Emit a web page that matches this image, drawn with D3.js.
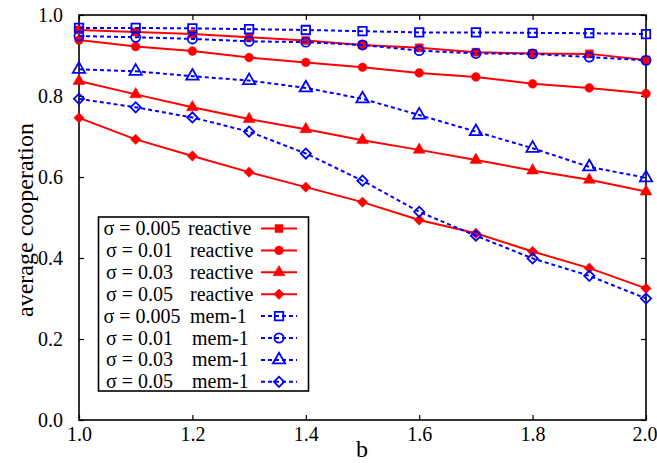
<!DOCTYPE html>
<html>
<head>
<meta charset="utf-8">
<script src="https://cdn.jsdelivr.net/npm/d3@7"></script>
<style>
  html, body { margin: 0; padding: 0; background: #fff; }
  svg { display: block; }
  text { font-family: "Liberation Serif", "Times New Roman", serif; fill: #000; }
</style>
</head>
<body>
<svg id="chart" width="657" height="463"></svg>
<script>
// ---- data ----
const bValues = [1.0, 1.1, 1.2, 1.3, 1.4, 1.5, 1.6, 1.7, 1.8, 1.9, 2.0];
const reactive005 = [0.963, 0.958, 0.953, 0.945, 0.937, 0.926, 0.919, 0.908, 0.905, 0.904, 0.889];
const reactive01  = [0.938, 0.922, 0.911, 0.895, 0.883, 0.871, 0.857, 0.847, 0.830, 0.820, 0.806];
const reactive03  = [0.837, 0.804, 0.772, 0.743, 0.718, 0.691, 0.667, 0.642, 0.616, 0.593, 0.564];
const reactive05  = [0.746, 0.693, 0.652, 0.612, 0.575, 0.538, 0.494, 0.461, 0.416, 0.375, 0.325];
const mem005 = [0.968, 0.968, 0.967, 0.965, 0.963, 0.960, 0.957, 0.957, 0.956, 0.955, 0.953];
const mem01  = [0.948, 0.945, 0.941, 0.935, 0.933, 0.926, 0.912, 0.905, 0.904, 0.896, 0.888];
const mem03  = [0.866, 0.861, 0.849, 0.838, 0.820, 0.793, 0.753, 0.712, 0.671, 0.625, 0.598];
const mem05  = [0.793, 0.772, 0.747, 0.712, 0.658, 0.591, 0.514, 0.455, 0.399, 0.356, 0.300];
const sigmaLabels = ["σ = 0.005", "σ = 0.01", "σ = 0.03", "σ = 0.05"];
const typeLabels = ["reactive", "mem-1"];
const xTicks = [1.0, 1.2, 1.4, 1.6, 1.8, 2.0];
const yTicks = [0.0, 0.2, 0.4, 0.6, 0.8, 1.0];

const series = [
  {sigma: 0, type: 0, values: reactive005, shape: "square"},
  {sigma: 1, type: 0, values: reactive01, shape: "circle"},
  {sigma: 2, type: 0, values: reactive03, shape: "triangle"},
  {sigma: 3, type: 0, values: reactive05, shape: "diamond"},
  {sigma: 0, type: 1, values: mem005, shape: "square"},
  {sigma: 1, type: 1, values: mem01, shape: "circle"},
  {sigma: 2, type: 1, values: mem03, shape: "triangle"},
  {sigma: 3, type: 1, values: mem05, shape: "diamond"}
];

// ---- layout ----
const svg = d3.select("#chart");
const L = 79, R = 646, T = 15, B = 420;
const x = d3.scaleLinear().domain([1, 2]).range([L, R]);
const y = d3.scaleLinear().domain([0, 1]).range([B, T]);
const RED = "#ff0000", BLUE = "#0000ff";
const FONT = '"Liberation Serif", "Times New Roman", serif';

function symbolPath(shape, filled) {
  if (shape === "square") return d3.symbol(d3.symbolSquare, filled ? 64 : 72)();
  if (shape === "circle") return d3.symbol(d3.symbolCircle, filled ? 60 : 66)();
  if (shape === "triangle") return d3.symbol(d3.symbolTriangle, filled ? 62 : 66)();
  return d3.symbol(d3.symbolSquare, filled ? 54 : 52)();
}
function symbolTransform(shape, cx, cy) {
  return shape === "diamond" ? `translate(${cx},${cy}) rotate(45)` : `translate(${cx},${cy})`;
}

// axes
const gx = svg.append("g").attr("transform", `translate(0,${B})`)
  .call(d3.axisBottom(x).tickValues(xTicks).tickFormat(d3.format(".1f")).tickSize(-5).tickSizeOuter(0).tickPadding(7));
const gy = svg.append("g").attr("transform", `translate(${L},0)`)
  .call(d3.axisLeft(y).tickValues(yTicks).tickFormat(d3.format(".1f")).tickSize(-5).tickSizeOuter(0).tickPadding(16));
const gt = svg.append("g").attr("transform", `translate(0,${T})`)
  .call(d3.axisTop(x).tickValues(xTicks).tickFormat("").tickSize(-5).tickSizeOuter(0));
const gr = svg.append("g").attr("transform", `translate(${R},0)`)
  .call(d3.axisRight(y).tickValues(yTicks).tickFormat("").tickSize(-5).tickSizeOuter(0));
[gx, gy, gt, gr].forEach(g => {
  g.attr("font-family", FONT).attr("font-size", 20);
  g.select(".domain").remove();
  g.selectAll("line").attr("stroke", "#000").attr("stroke-width", 1.2);
  g.selectAll("text").style("font-family", FONT).style("font-size", "20px").attr("fill", "#000");
});
// keep the last x label inside the picture
gx.selectAll(".tick text").filter(d => d === 2.0).attr("text-anchor", "end").attr("x", 11);
svg.append("rect").attr("x", L).attr("y", T).attr("width", R - L).attr("height", B - T)
  .attr("fill", "none").attr("stroke", "#000").attr("stroke-width", 1.6);

// series
const line = d3.line().x((d, i) => x(bValues[i])).y(d => y(d));
series.forEach(s => {
  const color = s.type === 0 ? RED : BLUE;
  const g = svg.append("g");
  g.append("path").datum(s.values).attr("d", line)
    .attr("fill", "none").attr("stroke", color).attr("stroke-width", 2)
    .attr("stroke-dasharray", s.type === 0 ? null : "4,3");
  g.selectAll("path.m").data(s.values).enter().append("path").attr("class", "m")
    .attr("d", symbolPath(s.shape, s.type === 0))
    .attr("transform", (d, i) => symbolTransform(s.shape, x(bValues[i]), y(d)))
    .attr("fill", s.type === 0 ? color : "none")
    .attr("stroke", color).attr("stroke-width", s.type === 0 ? 0.5 : 1.8);
});

// axis titles
svg.append("text").attr("x", 362).attr("y", 457).attr("text-anchor", "middle")
  .style("font-family", FONT).style("font-size", "24px").text("b");
svg.append("text").attr("transform", "translate(33,220) rotate(-90)").attr("text-anchor", "middle")
  .style("font-family", FONT).style("font-size", "24px").text("average cooperation");

// legend
const lg = svg.append("g");
lg.append("rect").attr("x", 98.5).attr("y", 217).attr("width", 210).attr("height", 174)
  .attr("fill", "#fff").attr("stroke", "#000").attr("stroke-width", 1.6);
const rowY = i => 228.5 + i * 21.9;
series.forEach((s, i) => {
  const color = s.type === 0 ? RED : BLUE;
  const cy = rowY(i);
  const sx = (s.sigma === 0) ? 103.5 : 106;
  const tx = s.type === 0 ? (s.sigma === 0 ? 188 : 190) : (s.sigma === 0 ? 190 : 192);
  lg.append("text").attr("x", sx).attr("y", cy + 6.5).style("font-family", FONT).style("font-size", "20px").text(sigmaLabels[s.sigma]);
  lg.append("text").attr("x", tx).attr("y", cy + 6.5).style("font-family", FONT).style("font-size", "20px").text(typeLabels[s.type]);
  lg.append("line").attr("x1", 261).attr("x2", 297).attr("y1", cy).attr("y2", cy)
    .attr("stroke", color).attr("stroke-width", 2)
    .attr("stroke-dasharray", s.type === 0 ? null : "4,3");
  lg.append("path").attr("d", symbolPath(s.shape, s.type === 0))
    .attr("transform", symbolTransform(s.shape, 279, cy))
    .attr("fill", s.type === 0 ? color : "none")
    .attr("stroke", color).attr("stroke-width", s.type === 0 ? 0.5 : 1.8);
});
</script>
</body>
</html>
